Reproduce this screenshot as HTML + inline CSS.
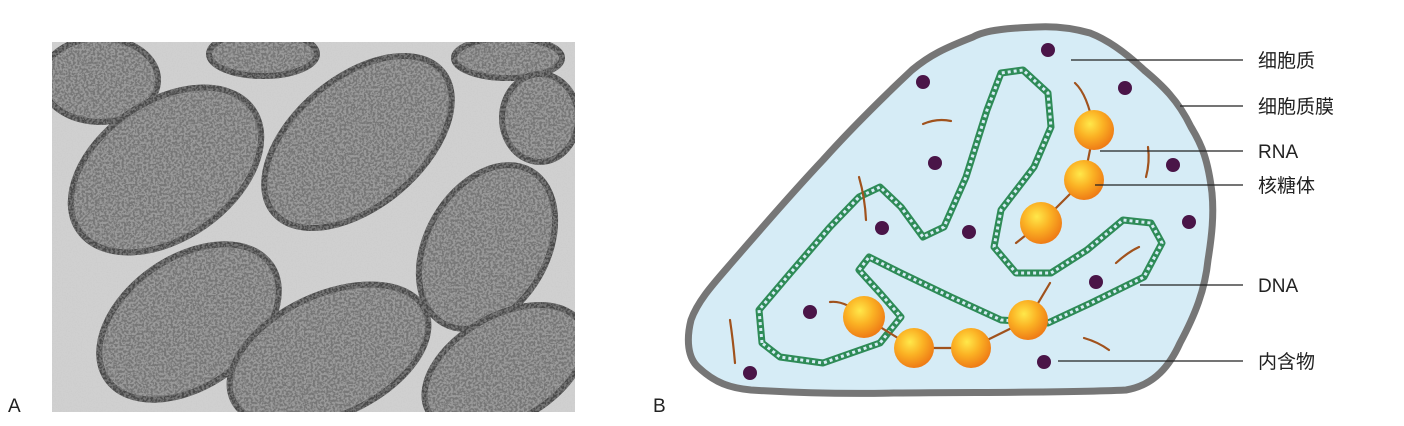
<!DOCTYPE html>
<html><head><meta charset="utf-8">
<style>
html,body{margin:0;padding:0;background:#fff;width:1404px;height:426px;overflow:hidden;}
svg{display:block;}
text{font-family:"Liberation Sans","Noto Sans CJK SC",sans-serif;}
</style></head>
<body>
<svg width="1404" height="426" viewBox="0 0 1404 426">
<defs>
<filter id="spots" x="0" y="0" width="100%" height="100%">
<feTurbulence type="fractalNoise" baseFrequency="0.45" numOctaves="2" seed="7" result="n"/>
<feColorMatrix in="n" type="matrix" values="0 0 0 0 0.18  0 0 0 0 0.18  0 0 0 0 0.18  0 0 0 -5 3.0" result="d"/>
<feComposite in="d" in2="SourceGraphic" operator="in" result="dd"/>
<feMerge><feMergeNode in="SourceGraphic"/><feMergeNode in="dd"/></feMerge>
</filter>
<filter id="bgnoise" x="0" y="0" width="100%" height="100%">
<feTurbulence type="fractalNoise" baseFrequency="0.8" numOctaves="1" seed="2" result="n"/>
<feColorMatrix in="n" type="matrix" values="0 0 0 0 0.6  0 0 0 0 0.6  0 0 0 0 0.6  0 0 0 -3 1.6" result="d"/>
<feComposite in="d" in2="SourceGraphic" operator="in" result="dd"/>
<feMerge><feMergeNode in="SourceGraphic"/><feMergeNode in="dd"/></feMerge>
</filter>
<radialGradient id="rib" cx="40%" cy="35%" r="65%">
<stop offset="0" stop-color="#ffe84a"/><stop offset="0.5" stop-color="#fbb224"/><stop offset="1" stop-color="#ef7d16"/>
</radialGradient>
<clipPath id="photoClip"><rect x="52" y="42" width="523" height="370"/></clipPath>
</defs>

<g clip-path="url(#photoClip)">
<rect x="52" y="42" width="523" height="370" fill="#d0d0d0" filter="url(#bgnoise)"/>
<g fill="#9a9a9a" stroke="#4a4a4a" stroke-width="6" filter="url(#spots)">
<ellipse cx="100" cy="80" rx="58" ry="42"/>
<ellipse cx="166" cy="170" rx="106" ry="68" transform="rotate(-35 166 170)"/>
<ellipse cx="263" cy="54" rx="54" ry="22"/>
<ellipse cx="358" cy="142" rx="110" ry="64" transform="rotate(-40 358 142)"/>
<ellipse cx="508" cy="58" rx="54" ry="20"/>
<ellipse cx="540" cy="118" rx="38" ry="44"/>
<ellipse cx="487" cy="247" rx="88" ry="60" transform="rotate(-60 487 247)"/>
<ellipse cx="189" cy="322" rx="100" ry="64" transform="rotate(-35 189 322)"/>
<ellipse cx="329" cy="355" rx="106" ry="60" transform="rotate(-25 329 355)"/>
<ellipse cx="505" cy="368" rx="88" ry="52" transform="rotate(-30 505 368)"/>
</g>
</g>
<text x="8" y="412" font-size="19" fill="#222">A</text>
<text x="653" y="412" font-size="19" fill="#222">B</text>

<g>
<path d="M1037,27 C1010,28 985,30 973,37 C945,48 930,55 912,70 C880,100 850,130 823,160 C790,195 760,230 734,260 C715,282 698,300 691,320 C686,340 688,358 698,367 C715,383 730,388 751,390 C800,393 850,394 894,393 C980,392 1060,393 1126,390 C1155,385 1170,365 1180,343 C1195,315 1205,290 1208,260 C1212,235 1214,215 1212,193 C1208,160 1202,145 1191,127 C1178,100 1162,85 1144,70 C1125,52 1108,40 1090,33 C1072,28 1055,26 1037,27 Z" fill="#d6ecf6" stroke="#767676" stroke-width="7"/>
<path d="M762,343 L759,310 L787,277 L830,227 L859,197 L880,187 L901,207 L923,237 L944,227 L966,177 L987,110 L1001,73 L1023,70 L1048,93 L1051,127 L1034,167 L1001,210 L994,247 L1016,273 L1051,273 L1087,250 L1123,220 L1151,223 L1162,243 L1144,277 L1091,303 L1048,323 L1001,320 L951,297 L901,273 L869,257 L859,270 L880,293 L901,317 L880,343 L823,363 L780,357 Z" fill="none" stroke="#2e8b57" stroke-width="7" stroke-linejoin="round"/>
<path d="M762,343 L759,310 L787,277 L830,227 L859,197 L880,187 L901,207 L923,237 L944,227 L966,177 L987,110 L1001,73 L1023,70 L1048,93 L1051,127 L1034,167 L1001,210 L994,247 L1016,273 L1051,273 L1087,250 L1123,220 L1151,223 L1162,243 L1144,277 L1091,303 L1048,323 L1001,320 L951,297 L901,273 L869,257 L859,270 L880,293 L901,317 L880,343 L823,363 L780,357 Z" fill="none" stroke="#d6ecf6" stroke-width="3" stroke-dasharray="3 3" stroke-linejoin="round"/>
<g stroke="#a0521d" stroke-width="2.2" fill="none" stroke-linecap="round">
<path d="M923,124 Q937,118 951,121"/>
<path d="M1148,147 Q1150,162 1146,177"/>
<path d="M859,177 Q865,198 866,220"/>
<path d="M730,320 Q733,340 735,363"/>
<path d="M1116,263 Q1128,252 1139,247"/>
<path d="M1084,338 Q1098,342 1109,350"/>
<path d="M1075,83 Q1088,95 1094,130 L1084,180 L1041,223 L1016,243"/>
<path d="M830,302 Q845,300 864,317 L914,348 L971,348 L1028,320 L1050,283"/>
</g>
<g fill="url(#rib)">
<circle cx="1094" cy="130" r="20"/><circle cx="1084" cy="180" r="20"/><circle cx="1041" cy="223" r="21"/>
<circle cx="864" cy="317" r="21"/><circle cx="914" cy="348" r="20"/><circle cx="971" cy="348" r="20"/><circle cx="1028" cy="320" r="20"/>
</g>
<g fill="#4a1548">
<circle cx="1048" cy="50" r="7"/><circle cx="923" cy="82" r="7"/><circle cx="1125" cy="88" r="7"/>
<circle cx="935" cy="163" r="7"/><circle cx="1173" cy="165" r="7"/><circle cx="882" cy="228" r="7"/>
<circle cx="969" cy="232" r="7"/><circle cx="1189" cy="222" r="7"/><circle cx="1096" cy="282" r="7"/>
<circle cx="810" cy="312" r="7"/><circle cx="750" cy="373" r="7"/><circle cx="1044" cy="362" r="7"/>
</g>
</g>

<g stroke="#222" stroke-width="1.3">
<line x1="1071" y1="60" x2="1243" y2="60"/>
<line x1="1180" y1="106" x2="1243" y2="106"/>
<line x1="1100" y1="151" x2="1243" y2="151"/>
<line x1="1095" y1="185" x2="1243" y2="185"/>
<line x1="1140" y1="285" x2="1243" y2="285"/>
<line x1="1058" y1="361" x2="1243" y2="361"/>
</g>
<g font-size="19" fill="#222">
<text x="1258" y="67">细胞质</text>
<text x="1258" y="113">细胞质膜</text>
<text x="1258" y="158">RNA</text>
<text x="1258" y="192">核糖体</text>
<text x="1258" y="292">DNA</text>
<text x="1258" y="368">内含物</text>
</g>
</svg>
</body></html>
